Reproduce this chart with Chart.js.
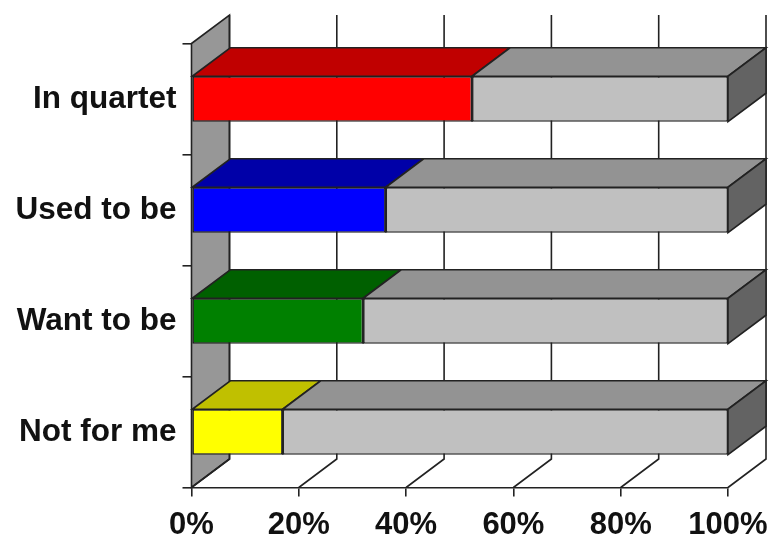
<!DOCTYPE html>
<html>
<head>
<meta charset="utf-8">
<title>Chart</title>
<script src="https://cdn.jsdelivr.net/npm/chart.js@4"></script>
<style>
    html, body { margin: 0; padding: 0; background: #fff; }
    canvas { display: block; }
</style>
</head>
<body>
<canvas id="chart" width="771" height="536"></canvas>
<script>
const categories = ['In quartet', 'Used to be', 'Want to be', 'Not for me'];
const shareValues = [52.3, 36.2, 32, 17];
const restValues = [47.7, 63.8, 68, 83];
const tickValues = [0, 20, 40, 60, 80, 100];

const shareColors = ['#ff0000', '#0000ff', '#008000', '#ffff00'];
const shareTopColors = ['#c00000', '#0000a8', '#006000', '#c0c000'];
const restColor = '#c0c0c0';
const restTopColor = '#939393';
const sideColor = '#636363';
const wallColor = '#979797';
const lineColor = '#222222';

// how far the back of the 3D box sits from the front
const DEPTH_X = 38;
const DEPTH_Y = -28.5;

function polygon(ctx, points, fill) {
    ctx.beginPath();
    points.forEach((p, i) => i ? ctx.lineTo(p[0], p[1]) : ctx.moveTo(p[0], p[1]));
    ctx.closePath();
    if (fill) {
        ctx.fillStyle = fill;
        ctx.fill();
    }
    ctx.stroke();
}

const box3d = {
    id: 'box3d',
    beforeDatasetsDraw(chart) {
        const { ctx, chartArea, scales } = chart;
        const top = chartArea.top;
        const bottom = chartArea.bottom;
        const left = scales.x.getPixelForValue(0);

        ctx.save();
        ctx.strokeStyle = lineColor;
        ctx.lineWidth = 1.6;

        // left wall
        polygon(ctx, [
            [left, top],
            [left + DEPTH_X, top + DEPTH_Y],
            [left + DEPTH_X, bottom + DEPTH_Y],
            [left, bottom]
        ], wallColor);

        // grid lines on the back wall and across the floor
        tickValues.forEach(v => {
            const x = scales.x.getPixelForValue(v);
            ctx.beginPath();
            ctx.moveTo(x, bottom);
            ctx.lineTo(x + DEPTH_X, bottom + DEPTH_Y);
            ctx.lineTo(x + DEPTH_X, top + DEPTH_Y);
            ctx.stroke();
        });

        // top and side faces of the bars
        chart.data.datasets.forEach((ds, d) => {
            chart.getDatasetMeta(d).data.forEach((bar, i) => {
                const yTop = bar.y - bar.height / 2;
                const yBottom = bar.y + bar.height / 2;
                polygon(ctx, [
                    [bar.base, yTop],
                    [bar.base + DEPTH_X, yTop + DEPTH_Y],
                    [bar.x + DEPTH_X, yTop + DEPTH_Y],
                    [bar.x, yTop]
                ], ds.topColors[i]);
                if (d === chart.data.datasets.length - 1) {
                    polygon(ctx, [
                        [bar.x, yTop],
                        [bar.x + DEPTH_X, yTop + DEPTH_Y],
                        [bar.x + DEPTH_X, yBottom + DEPTH_Y],
                        [bar.x, yBottom]
                    ], sideColor);
                }
            });
        });
        ctx.restore();
    },
    afterDatasetsDraw(chart) {
        // one clean divider where the two stacked segments meet
        const { ctx } = chart;
        ctx.save();
        ctx.strokeStyle = lineColor;
        ctx.lineWidth = 1.6;
        chart.getDatasetMeta(0).data.forEach(bar => {
            ctx.beginPath();
            ctx.moveTo(bar.x, bar.y - bar.height / 2);
            ctx.lineTo(bar.x, bar.y + bar.height / 2);
            ctx.stroke();
        });
        ctx.restore();
    }
};

new Chart(document.getElementById('chart'), {
    type: 'bar',
    plugins: [box3d],
    data: {
        labels: categories,
        datasets: [
            {
                data: shareValues,
                backgroundColor: shareColors,
                topColors: shareTopColors,
                borderColor: lineColor,
                borderWidth: 1.6,
                borderSkipped: false
            },
            {
                data: restValues,
                backgroundColor: restColor,
                topColors: categories.map(() => restTopColor),
                borderColor: lineColor,
                borderWidth: 1.6,
                borderSkipped: false
            }
        ]
    },
    options: {
        indexAxis: 'y',
        responsive: false,
        animation: false,
        barPercentage: 0.41,
        categoryPercentage: 1,
        layout: { padding: { top: 43.5, right: 43, left: 0, bottom: 0 } },
        plugins: {
            legend: { display: false },
            title: { display: false },
            tooltip: { enabled: false }
        },
        scales: {
            x: {
                stacked: true,
                min: 0,
                max: 100,
                afterFit: scale => {
                    scale.height = 48.5;
                    scale.paddingLeft = 0;
                    scale.paddingRight = 0;
                },
                afterBuildTicks: scale => { scale.ticks = tickValues.map(value => ({ value })); },
                border: { color: lineColor, width: 1.6 },
                grid: { drawOnChartArea: false, color: lineColor, lineWidth: 1.6, tickLength: 9 },
                ticks: {
                    maxRotation: 0,
                    autoSkip: false,
                    padding: 10,
                    color: '#111111',
                    font: { family: '"Liberation Sans"', size: 31, weight: 'bold' },
                    callback: v => v + '%'
                }
            },
            y: {
                stacked: true,
                afterFit: scale => { scale.width = 191.5; },
                border: { color: lineColor, width: 1.6 },
                grid: { drawOnChartArea: false, color: lineColor, lineWidth: 1.6, tickLength: 9 },
                ticks: {
                    padding: 6,
                    color: '#111111',
                    font: { family: '"Liberation Sans"', size: 31.5, weight: 'bold' }
                }
            }
        }
    }
});
</script>
</body>
</html>
